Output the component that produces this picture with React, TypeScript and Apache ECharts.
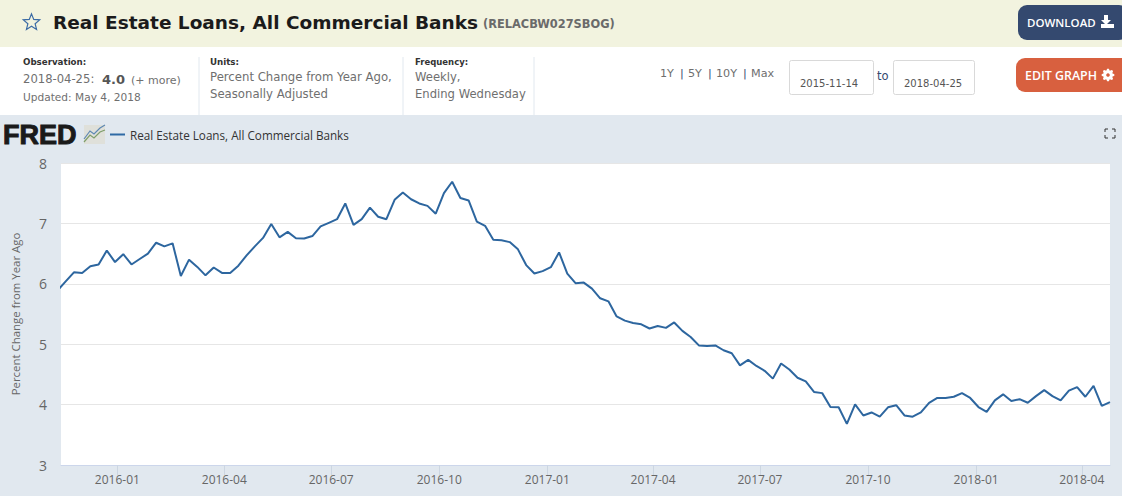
import React, { useEffect, useRef } from "react";
import * as echarts from "echarts";

const dates = [
  "2015-11-11","2015-11-18","2015-11-25","2015-12-02","2015-12-09","2015-12-16","2015-12-23","2015-12-30",
  "2016-01-06","2016-01-13","2016-01-20","2016-01-27","2016-02-03","2016-02-10","2016-02-17","2016-02-24",
  "2016-03-02","2016-03-09","2016-03-16","2016-03-23","2016-03-30","2016-04-06","2016-04-13","2016-04-20","2016-04-27",
  "2016-05-04","2016-05-11","2016-05-18","2016-05-25","2016-06-01","2016-06-08","2016-06-15","2016-06-22","2016-06-29",
  "2016-07-06","2016-07-13","2016-07-20","2016-07-27","2016-08-03","2016-08-10","2016-08-17","2016-08-24","2016-08-31",
  "2016-09-07","2016-09-14","2016-09-21","2016-09-28","2016-10-05","2016-10-12","2016-10-19","2016-10-26",
  "2016-11-02","2016-11-09","2016-11-16","2016-11-23","2016-11-30","2016-12-07","2016-12-14","2016-12-21","2016-12-28",
  "2017-01-04","2017-01-11","2017-01-18","2017-01-25","2017-02-01","2017-02-08","2017-02-15","2017-02-22",
  "2017-03-01","2017-03-08","2017-03-15","2017-03-22","2017-03-29","2017-04-05","2017-04-12","2017-04-19","2017-04-26",
  "2017-05-03","2017-05-10","2017-05-17","2017-05-24","2017-05-31","2017-06-07","2017-06-14","2017-06-21","2017-06-28",
  "2017-07-05","2017-07-12","2017-07-19","2017-07-26","2017-08-02","2017-08-09","2017-08-16","2017-08-23","2017-08-30",
  "2017-09-06","2017-09-13","2017-09-20","2017-09-27","2017-10-04","2017-10-11","2017-10-18","2017-10-25",
  "2017-11-01","2017-11-08","2017-11-15","2017-11-22","2017-11-29","2017-12-06","2017-12-13","2017-12-20","2017-12-27",
  "2018-01-03","2018-01-10","2018-01-17","2018-01-24","2018-01-31","2018-02-07","2018-02-14","2018-02-21","2018-02-28",
  "2018-03-07","2018-03-14","2018-03-21","2018-03-28","2018-04-04","2018-04-11","2018-04-18","2018-04-25",
];
const percentChange = [
  5.89,6.04,6.19,6.18,6.29,6.32,6.55,6.36,
  6.49,6.32,6.41,6.50,6.68,6.62,6.67,6.13,
  6.40,6.28,6.14,6.27,6.18,6.18,6.30,6.47,6.62,
  6.76,6.99,6.77,6.86,6.755,6.75,6.79,6.95,7.01,
  7.07,7.33,6.975,7.07,7.26,7.11,7.07,7.39,7.51,
  7.40,7.33,7.29,7.16,7.50,7.69,7.42,7.38,
  7.03,6.96,6.73,6.72,6.69,6.57,6.31,6.17,6.21,
  6.275,6.52,6.17,6.01,6.02,5.92,5.76,5.71,
  5.46,5.39,5.35,5.33,5.26,5.30,5.27,5.36,5.22,
  5.12,4.98,4.97,4.98,4.90,4.85,4.65,4.74,4.64,
  4.56,4.43,4.68,4.58,4.445,4.385,4.21,4.19,3.96,
  3.955,3.68,4.005,3.82,3.87,3.80,3.955,3.99,
  3.82,3.80,3.87,4.03,4.11,4.11,4.13,4.19,4.11,
  3.96,3.88,4.07,4.17,4.06,4.09,4.03,4.14,4.24,
  4.14,4.07,4.23,4.29,4.13,4.31,3.98,4.04,
];
const tickMonths = ["2016-01","2016-04","2016-07","2016-10","2017-01","2017-04","2017-07","2017-10","2018-01","2018-04"];
const seriesName = "Real Estate Loans, All Commercial Banks";
const axisStart = "2015-11-14";
const axisEnd = "2018-04-25";

const ms = (s: string) => {
  const [y, m, d] = s.split("-").map(Number);
  return new Date(y, m - 1, d || 1).getTime();
};
const pad2 = (n: number) => (n < 10 ? "0" + n : "" + n);

const SANS = "'DejaVu Sans', Verdana, sans-serif";
const CHART = "'Open Sans', Arial, sans-serif";

const label = (x: number, y: number, text: string, fontSize: number, fill: string, fontWeight: any = "normal", extra: any = {}) => ({
  type: "text", x, y, silent: true,
  style: { text, fontSize, fill, fontWeight, fontFamily: SANS, verticalAlign: "middle", align: "left", ...extra },
});

const starPoints = () => {
  const pts: number[][] = [];
  for (let i = 0; i < 10; i++) {
    const r = i % 2 === 0 ? 8.6 : 3.8;
    const a = -Math.PI / 2 + (i * Math.PI) / 5;
    pts.push([31.5 + r * Math.cos(a), 22.5 + r * Math.sin(a)]);
  }
  return pts;
};

const gearPoints = (cx: number, cy: number) => {
  const pts: number[][] = [];
  for (let i = 0; i < 24; i++) {
    const r = i % 3 === 2 ? 4.6 : 6.4;
    const a = ((i - 0.5) * Math.PI) / 12;
    pts.push([cx + r * Math.cos(a), cy + r * Math.sin(a)]);
  }
  return pts;
};

const graphics: any[] = [
  { type: "rect", z: -10, shape: { x: 0, y: 0, width: 1122, height: 47 }, style: { fill: "#f2f3df" } },
  { type: "rect", z: -10, shape: { x: 0, y: 47, width: 1122, height: 68 }, style: { fill: "#ffffff" } },
  { type: "rect", z: -10, shape: { x: 61, y: 163, width: 1049, height: 302 }, style: { fill: "#ffffff" } },
  { type: "polygon", shape: { points: starPoints() }, style: { fill: "none", stroke: "#3b6ba5", lineWidth: 1.2 } },
  label(53, 22, seriesName, 18.5, "#1b1b1b", "bold"),
  label(483, 24, "(RELACBW027SBOG)", 11.4, "#6a6a6a", "bold"),
  { type: "rect", shape: { x: 1018, y: 5, width: 110, height: 35, r: 9 }, style: { fill: "#34496f" } },
  label(1027, 22, "DOWNLOAD", 11.5, "#ffffff", "normal", { fontFamily: CHART, fontWeight: 600 }),
  { type: "polygon", shape: { points: [[1104, 15], [1108, 15], [1108, 20], [1111, 20], [1106, 25], [1101, 20], [1104, 20]] }, style: { fill: "#ffffff" } },
  { type: "rect", shape: { x: 1101, y: 24, width: 13, height: 4 }, style: { fill: "#ffffff" } },
  label(23, 62, "Observation:", 8.7, "#333333", "bold"),
  label(23, 79, "2018-04-25:", 11.6, "#6f6f6f"),
  label(102, 79, "4.0", 13, "#555555", "bold"),
  label(131, 80, "(+ more)", 11, "#6f6f6f"),
  label(23, 97, "Updated: May 4, 2018", 10.6, "#6f6f6f"),
  label(210, 62, "Units:", 8.7, "#333333", "bold"),
  label(210, 77, "Percent Change from Year Ago,", 11.7, "#6f6f6f"),
  label(210, 94, "Seasonally Adjusted", 11.7, "#6f6f6f"),
  label(415, 62, "Frequency:", 8.5, "#333333", "bold"),
  label(415, 77, "Weekly,", 11.6, "#6f6f6f"),
  label(415, 94, "Ending Wednesday", 11.6, "#6f6f6f"),
  ...[199, 403, 534].map((x) => ({ type: "line", shape: { x1: x, y1: 57, x2: x, y2: 115 }, style: { stroke: "#e1e8ef", lineWidth: 1 } })),
  label(660, 73, "1Y", 11.2, "#6f6f6f"),
  label(680, 73, "|", 11.2, "#34496f"),
  label(688, 73, "5Y", 11.2, "#6f6f6f"),
  label(708, 73, "|", 11.2, "#34496f"),
  label(716, 73, "10Y", 11.2, "#6f6f6f"),
  label(743, 73, "|", 11.2, "#34496f"),
  label(751, 73, "Max", 11.2, "#6f6f6f"),
  { type: "rect", shape: { x: 789.5, y: 60.5, width: 84, height: 34, r: 2 }, style: { fill: "#fff", stroke: "#d9d9d9" } },
  label(800, 83, "2015-11-14", 10, "#555555"),
  label(877, 76, "to", 11.5, "#34496f"),
  { type: "rect", shape: { x: 893.5, y: 60.5, width: 81, height: 34, r: 2 }, style: { fill: "#fff", stroke: "#d9d9d9" } },
  label(904, 83, "2018-04-25", 10, "#555555"),
  { type: "rect", shape: { x: 1016, y: 58, width: 115, height: 34, r: 9 }, style: { fill: "#d8603f" } },
  label(1025, 75, "EDIT GRAPH", 12.4, "#ffffff", "normal", { fontFamily: CHART, fontWeight: 600 }),
  { type: "polygon", shape: { points: gearPoints(1108, 75) }, style: { fill: "#ffffff" } },
  { type: "circle", shape: { cx: 1108, cy: 75, r: 1.8 }, style: { fill: "#d8603f" } },
  { type: "text", x: 3, y: 135, style: { text: "FRED", fontSize: 27, fontWeight: 900, fill: "#1a1a1a", fontFamily: "'Liberation Sans', Arial, sans-serif", verticalAlign: "middle", stroke: "#1a1a1a", lineWidth: 1 } },
  { type: "rect", shape: { x: 84, y: 125, width: 21, height: 19 }, style: { fill: "#dfe0da" } },
  { type: "polyline", shape: { points: [[84, 142], [90, 135], [94, 138], [100, 132], [105, 130]] }, style: { stroke: "#7f9e6a", fill: "none", lineWidth: 1.2 } },
  { type: "polyline", shape: { points: [[84, 139], [90, 131], [94, 134], [100, 128], [105, 125]] }, style: { stroke: "#5d88b3", fill: "none", lineWidth: 1.2 } },
  { type: "line", shape: { x1: 110, y1: 134.5, x2: 125, y2: 134.5 }, style: { stroke: "#2f6aa5", lineWidth: 2 } },
  { type: "text", x: 130, y: 135, style: { text: seriesName, fontSize: 11.7, fill: "#333333", fontFamily: CHART, verticalAlign: "middle" } },
  ...[
    [[1105, 132], [1105, 129], [1108, 129]],
    [[1112, 129], [1115, 129], [1115, 132]],
    [[1105, 135], [1105, 138], [1108, 138]],
    [[1112, 138], [1115, 138], [1115, 135]],
  ].map((points) => ({ type: "polyline", shape: { points }, style: { stroke: "#333333", fill: "none", lineWidth: 1 } })),
];

export default function App() {
  const ref = useRef<HTMLDivElement>(null);
  useEffect(() => {
    const chart = echarts.init(ref.current!, undefined, { renderer: "svg" });
    const tickValues = tickMonths.map(ms);
    chart.setOption({
      animation: false,
      backgroundColor: "#e1e8ef",
      grid: { left: 61, top: 163, width: 1049, height: 302, containLabel: false },
      xAxis: {
        type: "value",
        min: ms(axisStart),
        max: ms(axisEnd),
        axisLine: { show: true, lineStyle: { color: "#ccd6eb", width: 1 } },
        axisTick: { show: true, length: 10, customValues: tickValues, lineStyle: { color: "#ccd6e2", width: 1 } },
        axisLabel: {
          customValues: tickValues,
          color: "#666666",
          fontSize: 12,
          fontFamily: CHART,
          margin: 8,
          hideOverlap: false,
          formatter: (v: number) => {
            const d = new Date(v);
            return d.getFullYear() + "-" + pad2(d.getMonth() + 1);
          },
        },
        splitLine: { show: false },
      },
      yAxis: {
        type: "value",
        min: 3,
        max: 8,
        interval: 1,
        name: "Percent Change from Year Ago",
        nameLocation: "middle",
        nameGap: 40,
        nameTextStyle: { color: "#666666", fontSize: 11.4, fontFamily: CHART },
        axisLine: { show: false },
        axisTick: { show: false },
        axisLabel: { color: "#666666", fontSize: 14, fontFamily: CHART, margin: 14 },
        splitLine: { show: true, lineStyle: { color: "#e6e6e6", width: 1 } },
      },
      graphic: { elements: graphics },
      series: [
        {
          name: seriesName,
          type: "line",
          data: dates.map((d, i) => [ms(d), percentChange[i]]),
          showSymbol: false,
          symbol: "none",
          clip: true,
          smooth: false,
          z: 5,
          lineStyle: { color: "#2d669f", width: 2 },
        },
      ],
    });
    return () => chart.dispose();
  }, []);
  return <div ref={ref} style={{ position: "absolute", left: 0, top: 0, width: 1122, height: 496 }} />;
}
